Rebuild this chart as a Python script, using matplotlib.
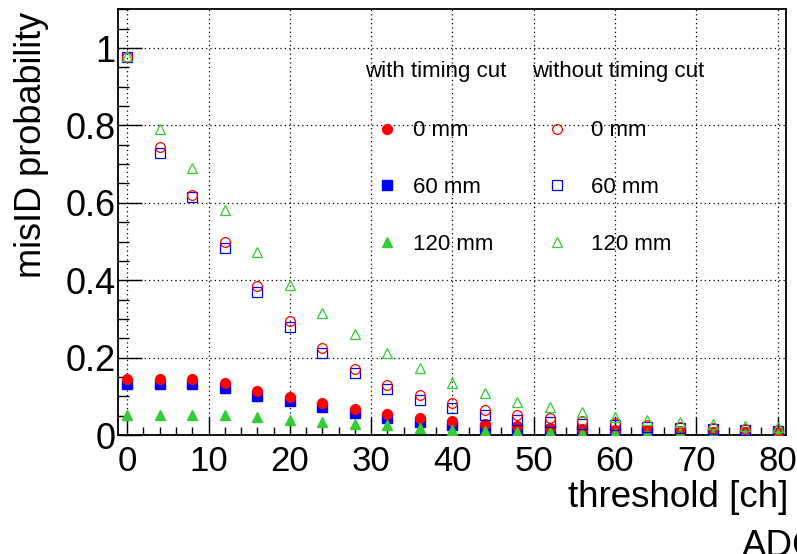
import matplotlib
matplotlib.use("Agg")
import matplotlib.pyplot as plt
from matplotlib.ticker import MultipleLocator, FixedLocator, FuncFormatter

plt.rcParams['font.family'] = ['Liberation Sans', 'DejaVu Sans']

threshold = [0, 4, 8, 12, 16, 20, 24, 28, 32, 36, 40,
             44, 48, 52, 56, 60, 64, 68, 72, 76, 80]

# with timing cut
cut_0mm = [0.144, 0.144, 0.144, 0.135, 0.114, 0.098, 0.082, 0.068, 0.054, 0.043, 0.036,
           0.028, 0.023, 0.019, 0.016, 0.014, 0.012, 0.010, 0.008, 0.007, 0.006]
cut_60mm = [0.133, 0.132, 0.132, 0.122, 0.102, 0.087, 0.072, 0.056, 0.043, 0.033, 0.026,
            0.019, 0.015, 0.013, 0.011, 0.009, 0.008, 0.007, 0.006, 0.005, 0.004]
cut_120mm = [0.052, 0.052, 0.052, 0.051, 0.046, 0.039, 0.034, 0.029, 0.025, 0.019, 0.014,
             0.011, 0.009, 0.007, 0.006, 0.005, 0.004, 0.004, 0.003, 0.003, 0.002]

# without timing cut
nocut_0mm = [0.977, 0.745, 0.620, 0.500, 0.386, 0.295, 0.226, 0.170, 0.129, 0.103, 0.082,
             0.065, 0.052, 0.043, 0.036, 0.030, 0.025, 0.021, 0.017, 0.015, 0.013]
nocut_60mm = [0.977, 0.728, 0.614, 0.482, 0.370, 0.280, 0.213, 0.159, 0.118, 0.090, 0.069,
              0.052, 0.040, 0.034, 0.029, 0.025, 0.021, 0.018, 0.015, 0.013, 0.011]
nocut_120mm = [0.979, 0.790, 0.689, 0.581, 0.474, 0.388, 0.314, 0.261, 0.211, 0.172, 0.135,
               0.108, 0.086, 0.073, 0.059, 0.047, 0.040, 0.034, 0.028, 0.023, 0.020]

labels = ["0 mm", "60 mm", "120 mm"]
headers = ["with timing cut", "without timing cut"]

RED = "#ff0000"
BLUE = "#0000ff"
GREEN = "#33cc33"

fig = plt.figure(figsize=(7.97, 5.54), dpi=100)
ax = fig.add_axes([0.1484, 0.2148, 0.8374, 0.7684])

ms = 7
filled = [
    ax.plot(threshold, cut_60mm, "s", color=BLUE, ms=ms, mec=BLUE, zorder=3)[0],
    ax.plot(threshold, cut_0mm, "o", color=RED, ms=ms, mec=RED, zorder=3)[0],
    ax.plot(threshold, cut_120mm, "^", color=GREEN, ms=ms, mec=GREEN, zorder=3)[0],
]
hollow = [
    ax.plot(threshold, nocut_60mm, "s", mfc="none", mec=BLUE, ms=ms, mew=0.9, zorder=4)[0],
    ax.plot(threshold, nocut_0mm, "o", mfc="none", mec=RED, ms=ms, mew=0.9, zorder=4)[0],
    ax.plot(threshold, nocut_120mm, "^", mfc="none", mec=GREEN, ms=ms, mew=0.9, zorder=4)[0],
]
# legend order: 0, 60, 120 mm
filled = [filled[1], filled[0], filled[2]]
hollow = [hollow[1], hollow[0], hollow[2]]

ax.set_xlim(-1.1, 81)
ax.set_ylim(0, 1.1)

ax.xaxis.set_major_locator(MultipleLocator(10))
ax.xaxis.set_minor_locator(MultipleLocator(2))
ax.yaxis.set_major_locator(FixedLocator([0, 0.2, 0.4, 0.6, 0.8, 1.0]))
ax.yaxis.set_minor_locator(MultipleLocator(0.05))
ax.yaxis.set_major_formatter(FuncFormatter(lambda v, p: f"{v:g}"))

ax.tick_params(axis="both", which="both", direction="in", top=False, right=False,
               color="black", width=1.0)
ax.tick_params(axis="x", which="major", length=13, pad=7, labelsize=25)
ax.tick_params(axis="x", which="minor", length=6)
ax.tick_params(axis="y", which="major", length=17, pad=2, labelsize=26)
ax.tick_params(axis="y", which="minor", length=8)

ax.grid(True, which="major", color="black", linestyle=(0, (1, 2.5)), linewidth=0.9)
ax.set_axisbelow(True)
for sp in ax.spines.values():
    sp.set_linewidth(1.3)

fig.text(0.989, 0.0843, "threshold [ch]", ha="right", va="baseline", fontsize=26.5)
fig.text(0.039, 0.979, "misID probability", ha="center", va="top",
         rotation=90, fontsize=26)
fig.text(742 / 797, -0.004, "ADC", ha="left", va="baseline", fontsize=26.5)

# column headers above the two legend columns
ax.text(0.370, 0.855, headers[0], transform=ax.transAxes, ha="left", va="center",
        fontsize=16)
ax.text(0.6205, 0.855, headers[1], transform=ax.transAxes, ha="left", va="center",
        fontsize=16)

leg_kw = dict(loc="upper left", frameon=False, fontsize=16,
              labelspacing=1.61, borderpad=0, borderaxespad=0)
leg1 = ax.legend(filled, labels, handlelength=2.0, handletextpad=0.16,
                 bbox_to_anchor=(0.369, 0.739), **leg_kw)
ax.add_artist(leg1)
leg2 = ax.legend(hollow, labels, handlelength=2.3, handletextpad=0.35,
                 bbox_to_anchor=(0.6195, 0.739), **leg_kw)

fig.savefig("out.png", dpi=100)
